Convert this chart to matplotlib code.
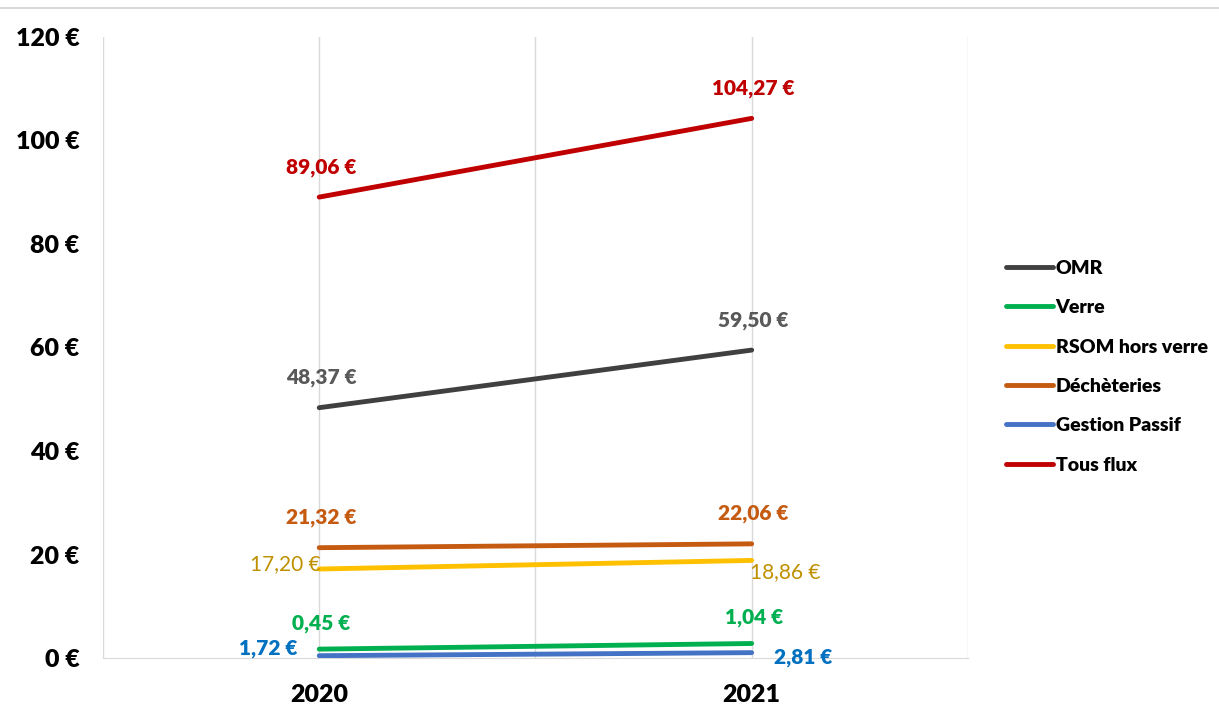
import matplotlib
matplotlib.use("Agg")
import matplotlib.pyplot as plt

plt.rcParams['font.family'] = ['Lato', 'DejaVu Sans']

years = ["2020", "2021"]
series_names = ["OMR", "Verre", "RSOM hors verre", "Déchèteries", "Gestion Passif", "Tous flux"]
omr = [48.37, 59.50]
verre = [1.72, 2.81]
rsom = [17.20, 18.86]
decheteries = [21.32, 22.06]
gestion_passif = [0.45, 1.04]
tous_flux = [89.06, 104.27]
# labels as printed on the original chart
omr_labels = ["48,37 €", "59,50 €"]
verre_labels = ["0,45 €", "1,04 €"]
rsom_labels = ["17,20 €", "18,86 €"]
dech_labels = ["21,32 €", "22,06 €"]
gp_labels = ["1,72 €", "2,81 €"]
tous_labels = ["89,06 €", "104,27 €"]
yticks = [0, 20, 40, 60, 80, 100, 120]

line_colors = ["#404040", "#00B050", "#FFC000", "#C55A11", "#4472C4", "#C00000"]

fig = plt.figure(figsize=(12.19, 7.22), dpi=100)
ax = fig.add_axes([0.0845, 0.0886, 0.7095, 0.8602])

x = list(range(len(years)))
all_values = [omr, verre, rsom, decheteries, gestion_passif, tous_flux]
for vals, name, col in zip(all_values, series_names, line_colors):
    ax.plot(x, vals, color=col, lw=3.5, solid_capstyle='round', label=name, zorder=3)


def label(xi, yi, text, color, dx, dy, ha='center', bold=True):
    ax.annotate(text, (xi, yi), xytext=(dx, dy), textcoords='offset pixels',
                ha=ha, va='center', color=color, fontsize=15,
                fontweight='heavy' if bold else 'normal', zorder=4)


for i in x:
    label(i, tous_flux[i], tous_labels[i], "#C00000", 2, 30)
    label(i, omr[i], omr_labels[i], "#595959", 2, 30)
    label(i, decheteries[i], dech_labels[i], "#C55A11", 2, 30)
    label(i, verre[i], verre_labels[i], "#00B050", 2, 26)
label(0, rsom[0], rsom_labels[0], "#BF9000", 2, 5, ha='right', bold=False)
label(1, rsom[1], rsom_labels[1], "#BF9000", -2, -12, ha='left', bold=False)
label(0, gestion_passif[0], gp_labels[0], "#0070C0", -22, 7, ha='right')
label(1, gestion_passif[1], gp_labels[1], "#0070C0", 22, -5, ha='left')

ax.set_xlim(-0.5, 1.5)
ax.set_ylim(0, 120)
ax.set_xticks(x)
ax.set_xticklabels(years, fontsize=18, fontweight='heavy')
ax.set_xticks([-0.5, 0.5, 1.5], minor=True)
ax.set_yticks(yticks)
ax.set_yticklabels(["%d €" % v for v in yticks], fontsize=18, fontweight='heavy')
ax.tick_params(axis='both', which='both', length=0)
ax.tick_params(axis='x', pad=19)
ax.tick_params(axis='y', pad=17)
ax.grid(axis='x', which='both', color='#D9D9D9', lw=1)
for s in ['top', 'right', 'left']:
    ax.spines[s].set_visible(False)
ax.spines['bottom'].set_color('#D9D9D9')

leg = ax.legend(loc='center left', bbox_to_anchor=(1.024, 0.469), frameon=False,
                prop={'weight': 'heavy', 'size': 14}, handlelength=2.4,
                handletextpad=0.15, labelspacing=1.15)
for h in leg.get_lines():
    h.set_linewidth(3.5)

fig.add_artist(plt.Line2D([0, 1], [0.989, 0.989], color='#D9D9D9', lw=1.5))

fig.savefig("out.png", dpi=100)
